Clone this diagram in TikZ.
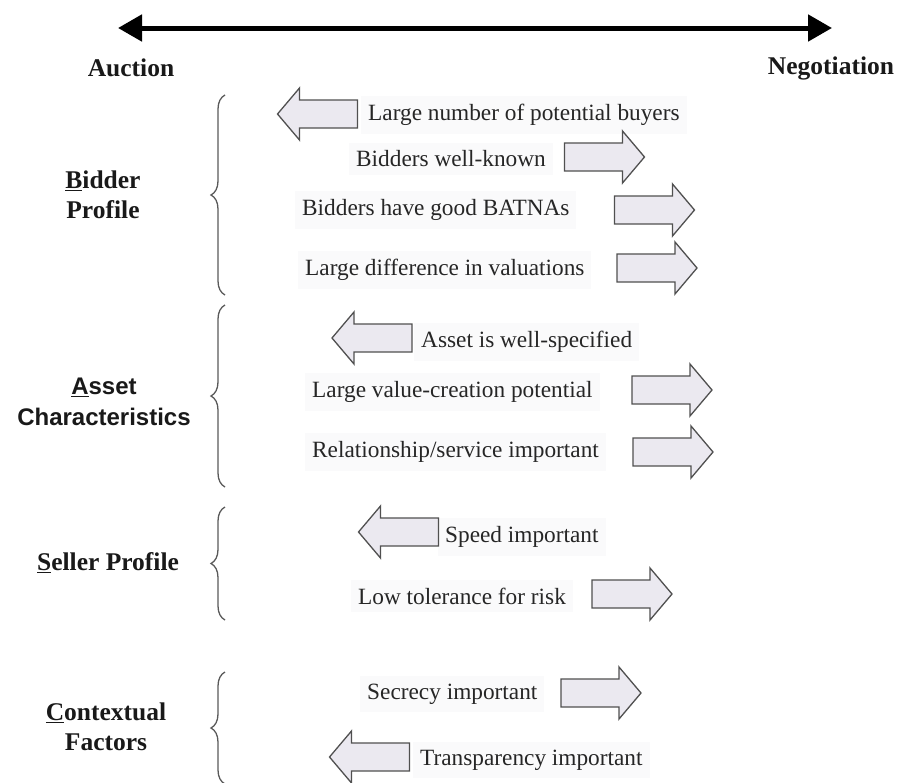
\documentclass[tikz,border=0pt]{standalone}
\usepackage{fontspec}
\setmainfont{Liberation Serif}
\newfontfamily\hsans{Liberation Sans}
\usetikzlibrary{arrows.meta,decorations.pathreplacing}
\definecolor{arrfill}{HTML}{EBE9F0}
\definecolor{arrline}{HTML}{505050}
\definecolor{txtbg}{HTML}{FAFAFB}
\tikzset{
  fatarrow/.style={draw=arrline, fill=arrfill, line width=1.3pt, line join=miter},
  rarr/.pic={\path[fatarrow] (-40,-14) -- (18,-14) -- (18,-26) -- (40,0) -- (18,26) -- (18,14) -- (-40,14) -- cycle;},
  larr/.pic={\path[fatarrow] (40,-14) -- (-18,-14) -- (-18,-26) -- (-40,0) -- (-18,26) -- (-18,14) -- (40,14) -- cycle;},
  item/.style={font=\fontsize{23.3}{27}\selectfont, fill=txtbg, inner xsep=7pt, inner ysep=8pt, anchor=west, text=black!85},
  head/.style={font=\fontsize{25.5}{30}\selectfont\bfseries, align=center, text=black!90},
  sanshead/.style={font=\fontsize{24}{31}\selectfont\hsans\bfseries, align=center, text=black!90},
  bracestyle/.style={decorate, decoration={brace, amplitude=14pt}, draw=black!65, line width=1.3pt},
}
\begin{document}
\begin{tikzpicture}[x=1pt,y=-1pt]
\useasboundingbox (0,0) rectangle (897,782);
% top axis
\coordinate (L) at (118,28);
\coordinate (R) at (832,28);
\draw[line width=5pt, {Triangle[length=24pt,width=26pt]}-{Triangle[length=24pt,width=26pt]}] (L) -- (R);
\node[head] (auc) at (131,68) {Auction};
\node[head] (neg) at (831,68) {Negotiation};

% group headings
\node[head] (bid) at (103,195) {\underline{B}idder\\Profile};
\node[sanshead] (ass) at (104,402) {\underline{A}sset\\Characteristics};
\node[head] (sel) at (108,563) {\underline{S}eller Profile};
\node[head] (con) at (106,727) {\underline{C}ontextual\\Factors};

% braces
\coordinate (b1b) at (225,295); \coordinate (b1t) at (225,95);
\coordinate (b2b) at (225,487); \coordinate (b2t) at (225,305);
\coordinate (b3b) at (225,620); \coordinate (b3t) at (225,507);
\coordinate (b4b) at (225,784); \coordinate (b4t) at (225,672);
\draw[bracestyle] (b1b) -- (b1t);
\draw[bracestyle] (b2b) -- (b2t);
\draw[bracestyle] (b3b) -- (b3t);
\draw[bracestyle] (b4b) -- (b4t);

% items
\node[item] (t1) at (361,115) {Large number of potential buyers};
\node[item] (t2) at (349,159) {Bidders well-known};
\node[item] (t3) at (295,210) {Bidders have good BATNAs};
\node[item] (t4) at (298,270) {Large difference in valuations};
\node[item] (t5) at (414,342) {Asset is well-specified};
\node[item] (t6) at (305,392) {Large value-creation potential};
\node[item] (t7) at (305,452) {Relationship/service important};
\node[item] (t8) at (438,537) {Speed important};
\node[item] (t9) at (351,596) {Low tolerance for risk};
\node[item] (t10) at (360,694) {Secrecy important};
\node[item] (t11) at (413,760) {Transparency important};

% arrows
\pic (a1) at (317.5,114) {larr};
\pic (a2) at (604.5,157) {rarr};
\pic (a3) at (654.5,210) {rarr};
\pic (a4) at (657,268) {rarr};
\pic (a5) at (372,338) {larr};
\pic (a6) at (672,390) {rarr};
\pic (a7) at (673,452) {rarr};
\pic (a8) at (398.5,532) {larr};
\pic (a9) at (632,594) {rarr};
\pic (a10) at (601,693) {rarr};
\pic (a11) at (369.5,757) {larr};
\end{tikzpicture}
\end{document}
